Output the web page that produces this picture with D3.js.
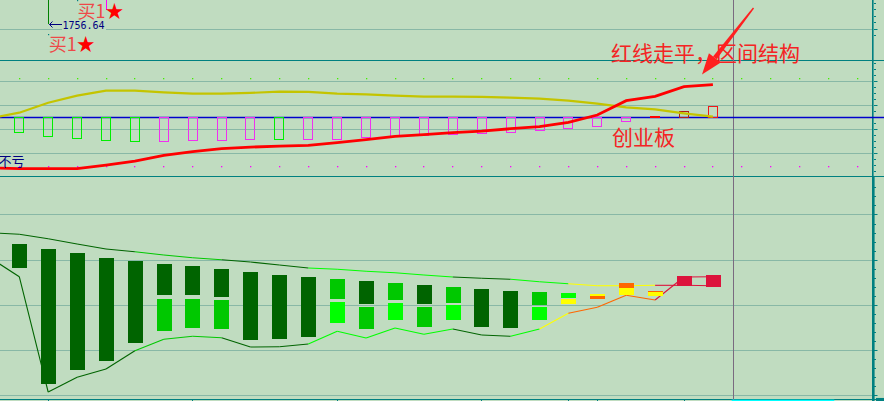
<!DOCTYPE html>
<html><head><meta charset="utf-8">
<script src="https://cdn.jsdelivr.net/npm/d3@7"></script>
<style>html,body{margin:0;padding:0;background:#C0DCC0;overflow:hidden}svg{display:block}</style>
</head><body><svg id="c" width="884" height="401"></svg>
<script>
// ================= DATA =================
const slots = d3.range(30);               // time slots (incl. empty slots on the right)
const bars = d3.range(25);                // slots holding data
// --- price panel (top) ---
const priceGrid = [1755];
const priceTicks = [1753, 1755, 1757, 1759, 1761, 1763];
const wickBars = [1, 3];
const wickLows = [1756.64, 1761.0];
const wickType = ['down', 'up'];
const lowLabelBar = 1;
const lowLabelPrice = 1756.64;
const signalBars = [2, 1];
const signalPrices = [1763.9, 1753.46];
const signalTexts = ['买1', '买1'];
// --- indicator panel (middle) ---
const oscGrid = [18, 6, -6, -18];
const oscVals = [-7.5,-9.5,-10.5,-11.5,-12,-12,-11.7,-11.7,-11,-11,-11,-11,-10,-9.5,-9,-8.5,-8,-7.5,-6.5,-5.5,-4.5,-2,0.6,3,5.6];
const oscType = ['G','G','G','G','G','M','M','M','M','G','M','M','M','M','M','M','M','M','M','M','M','M','F','D','R'];
// first value of each line = previous (off-screen) bar
const yellowVals = [-0.4, 2.3,7.3,10.8,13.3,13.3,12.5,11.8,11.8,12.2,12.8,12.7,11.8,11.5,10.8,10.3,10.3,10.2,9.8,9.3,8.3,6.8,5,4,2,0.3];
const redVals = [-25.2, -25.7,-25.7,-25.7,-23.9,-21.9,-19,-17.2,-15.7,-14.9,-14.4,-14,-12.7,-11.2,-9.5,-8.7,-7.7,-6.9,-5.7,-4.7,-2.5,1.15,8.3,10.5,15.3,16.3];
const upDotLevel = 19.5, downDotLevel = -24.35;
// --- lower panel ---
const lowGrid = [0, 10, 20, 30, 40];
const candles = [
  [[33.6,28.3,'D']],
  [[32.5,2.4,'D']],
  [[31.6,5.7,'D']],
  [[30.5,7.5,'D']],
  [[29.8,11.7,'D']],
  [[29.1,22.3,'D'],[21.4,14.3,'M']],
  [[28.7,22.3,'D'],[21.4,15.0,'M']],
  [[28.0,21.9,'D'],[21.1,14.8,'M']],
  [[27.4,12.3,'D']],
  [[26.7,12.6,'D']],
  [[26.3,13.0,'D']],
  [[25.8,21.4,'M'],[20.7,16.1,'L']],
  [[25.4,20.3,'D'],[19.6,14.6,'M']],
  [[24.9,21.2,'M'],[20.5,16.6,'L']],
  [[24.5,20.3,'D'],[19.6,15.2,'M']],
  [[24.0,20.5,'M'],[20.0,16.6,'L']],
  [[23.6,15.2,'D']],
  [[23.1,15.0,'D']],
  [[22.9,20.1,'M'],[19.6,16.6,'L']],
  [[22.7,21.6,'L'],[21.4,20.3,'Y']],
  [[22.5,22.1,'Y'],[22.1,21.4,'O']],
  [[24.9,23.8,'O'],[23.8,22.3,'Y']],
  [[23.1,22.9,'O'],[22.9,22.0,'Y']],
  [[26.5,24.3,'C']],
  [[26.7,24.0,'C']]
];
const envUpper = [36.05, 35.72,34.74,33.57,32.46,31.86,31.13,30.53,30.08,29.57,28.91,28.24,27.95,27.51,27.2,26.69,26.25,25.96,25.73,25.2,24.76,24.31,24.31,24.4,24.4,24.31];
const envLower = [30.44, 26.31,0.73,3.99,5.83,9.89,12.42,13.09,12.78,10.72,10.78,11.38,14.2,12.71,14.93,13.53,14.71,13.38,13.09,14.71,18.19,19.52,22.19,21.14,26.25,26.31];
const envUpperCode = ['D','D','D','D','D','M','M','M','D','D','D','L','L','L','L','L','D','D','L','L','Y','Y','Y','C','C'];
const envLowerCode = ['D','D','D','D','D','M','M','M','D','D','D','L','L','L','L','L','D','D','L','Y','O','O','O','C','C'];
// --- time axis ---
const dateTicks = [1, 6, 11, 16, 19, 20, 23];
const cursorSlot = 24.7;
const scrollRange = [24.65, 28.2];
// --- notes ---
const noteMain = '红线走平，区间结构';
const noteSub = '创业板';
const noteLeft = '不亏';

// ================= DRAW =================
const W = 884, H = 401;
const col = {
  bg:'#C0DCC0', grid:'#88B8A6', teal:'#008080', blue:'#0000CC', navy:'#000080',
  D:'#006400', M:'#00C800', L:'#00FF00', Y:'#FFFF00', O:'#FF6600', C:'#DC143C'
};
const oscCol = {G:'#00EE00', M:'#F030F0', F:'#FF0000', D:'#B01C1C', R:'#F01818'};
const svg = d3.select('#c');
const axisX = 873;

const x = d3.scaleLinear().domain([0, 29]).range([19.3, 857.4]);
const yP = d3.scaleLinear().domain([1745.4, 1764.1]).range([60.3, 0]);
const yO = d3.scaleLinear().domain([-29.35, 28.5]).range([176, 60.3]);
const yL = d3.scaleLinear().domain([-0.9, 48.65]).range([399.36, 176]);
const crisp = v => Math.floor(v) + 0.5;

svg.append('rect').attr('width', W).attr('height', H).attr('fill', col.bg);

// grid lines
const g = svg.append('g');
const gridYs = [...priceGrid.map(yP), ...oscGrid.map(yO), ...lowGrid.map(yL)];
g.selectAll('line.grid').data(gridYs).join('line')
  .attr('x1', 0).attr('x2', axisX - 1)
  .attr('y1', d => crisp(d)).attr('y2', d => crisp(d))
  .attr('stroke', col.grid).attr('stroke-width', 1);

// panel borders
[yO.range()[1], yO.range()[0], yL.range()[0]].forEach(v => {
  g.append('line').attr('x1', 0).attr('x2', W).attr('y1', crisp(v)).attr('y2', crisp(v))
    .attr('stroke', col.teal).attr('stroke-width', 1);
});

// cursor vertical
g.append('line').attr('x1', crisp(x(cursorSlot))).attr('x2', crisp(x(cursorSlot)))
  .attr('y1', 0).attr('y2', H).attr('stroke', '#7A6A80').attr('stroke-width', 1);

// right axis
g.append('rect').attr('x', axisX - 1).attr('y', 0).attr('width', 1.6).attr('height', yO.range()[0]).attr('fill', col.teal);
g.append('rect').attr('x', axisX - 1).attr('y', yO.range()[0]).attr('width', 2.6).attr('height', H - yO.range()[0]).attr('fill', col.teal);
const tick = (y, major) => g.append('line').attr('x1', axisX + 1).attr('x2', axisX + (major ? 4.5 : 3))
  .attr('y1', crisp(y)).attr('y2', crisp(y)).attr('stroke', col.teal).attr('stroke-width', 1);
priceTicks.forEach(p => tick(yP(p), priceGrid.includes(p)));
d3.range(-27, 28, 3).filter(v => v !== 0).forEach(v => tick(yO(v), oscGrid.includes(v)));
d3.range(0, 47, 2).forEach(v => tick(yL(v), v % 10 === 0));
g.append('rect').attr('x', axisX + 3).attr('y', yL.range()[0] - 1.4).attr('width', W - axisX - 3).attr('height', 4).attr('fill', col.teal);

// date ticks & scroll strip
dateTicks.forEach(i => g.append('line').attr('x1', crisp(x(i))).attr('x2', crisp(x(i)))
  .attr('y1', yL.range()[0]).attr('y2', H).attr('stroke', col.teal).attr('stroke-width', 1));
g.append('rect').attr('x', x(scrollRange[0])).attr('y', yL.range()[0] + 0.3)
  .attr('width', x(scrollRange[1]) - x(scrollRange[0])).attr('height', 2).attr('fill', '#00FFFF');

// ---------- price panel ----------
wickBars.forEach((b, k) => {
  g.append('line').attr('x1', crisp(x(b))).attr('x2', crisp(x(b)))
    .attr('y1', 0).attr('y2', yP(wickLows[k]))
    .attr('stroke', wickType[k] === 'down' ? '#008000' : '#FF00FF').attr('stroke-width', 1);
});
{
  const lx = crisp(x(lowLabelBar)), ly = crisp(yP(lowLabelPrice));
  g.append('rect').attr('x', lx + 13.5).attr('y', ly - 6).attr('width', 44).attr('height', 13).attr('fill', col.bg);
  g.append('path').attr('d', `M${lx + 13.5},${ly}H${lx + 1}M${lx + 4},${ly - 3}L${lx + 1},${ly}L${lx + 4},${ly + 3}`)
    .attr('stroke', col.navy).attr('fill', 'none').attr('stroke-width', 1);
  g.append('text').attr('x', lx + 14).attr('y', ly + 4)
    .attr('font-family', 'DejaVu Sans Mono, monospace').attr('font-size', 10)
    .attr('fill', col.navy).text(lowLabelPrice.toFixed(2));
}
signalBars.forEach((b, k) => {
  const sx = x(b) + 0.5, sy = yP(signalPrices[k]);
  g.append('rect').attr('x', Math.floor(x(b))).attr('y', Math.floor(sy)).attr('width', 1.2).attr('height', 1.2).attr('fill', col.teal);
  const t = g.append('text').attr('x', sx).attr('y', sy + 17)
    .attr('font-family', 'Noto Sans CJK SC, sans-serif').attr('font-size', 18);
  t.append('tspan').attr('fill', '#EE4848').text(signalTexts[k]);
  t.append('tspan').attr('fill', '#FF0000').text('★');
});

// ---------- indicator panel ----------
slots.forEach(i => {
  g.append('rect').attr('x', Math.floor(x(i))).attr('y', Math.floor(yO(upDotLevel))).attr('width', 1.3).attr('height', 1.3).attr('fill', '#44EE00');
  g.append('rect').attr('x', Math.floor(x(i))).attr('y', Math.floor(yO(downDotLevel))).attr('width', 1.3).attr('height', 1.3).attr('fill', '#FF00FF');
});
g.append('line').attr('x1', 0).attr('x2', W).attr('y1', crisp(yO(0))).attr('y2', crisp(yO(0)))
  .attr('stroke', col.blue).attr('stroke-width', 1.4);

bars.forEach(i => {
  const v = oscVals[i], t = oscType[i];
  const y0 = crisp(yO(0)), y1 = crisp(yO(v));
  const left = Math.round(x(i) - 5) + 0.5;
  if (t === 'F') {
    g.append('rect').attr('x', left - 0.5).attr('y', Math.min(y0, y1) - 0.5).attr('width', 10)
      .attr('height', Math.abs(y1 - y0) + 1).attr('fill', oscCol[t]);
  } else {
    g.append('rect').attr('x', left).attr('y', Math.min(y0, y1)).attr('width', 9)
      .attr('height', Math.abs(y1 - y0)).attr('fill', 'none').attr('stroke', oscCol[t]).attr('stroke-width', 1);
  }
});

const lineIdx = [-1, ...bars];
const oLine = d3.line().x((d, k) => x(lineIdx[k])).y(d => yO(d));
g.append('path').attr('d', oLine(yellowVals)).attr('fill', 'none').attr('stroke', '#C4C400').attr('stroke-width', 2.2);
g.append('path').attr('d', oLine(redVals)).attr('fill', 'none').attr('stroke', '#FF0000').attr('stroke-width', 2.8);

// ---------- lower panel ----------
const segs = (vals, codes) => {
  codes.forEach((c, k) => {
    g.append('line')
      .attr('x1', x(lineIdx[k])).attr('y1', yL(vals[k]))
      .attr('x2', x(lineIdx[k + 1])).attr('y2', yL(vals[k + 1]))
      .attr('stroke', col[c]).attr('stroke-width', 1.1);
  });
};
segs(envUpper, envUpperCode);
segs(envLower, envLowerCode);

bars.forEach(i => {
  candles[i].forEach(([hi, lo, c]) => {
    const top = Math.round(yL(hi)), bot = Math.round(yL(lo));
    g.append('rect').attr('x', Math.round(x(i) - 7.3)).attr('y', top)
      .attr('width', 15).attr('height', Math.max(1, bot - top)).attr('fill', col[c]);
  });
});

// ---------- notes ----------
g.append('text').attr('x', -1.5).attr('y', 165.8).attr('font-family', 'Noto Sans CJK SC, sans-serif')
  .attr('font-size', 13).attr('fill', col.navy).text(noteLeft);
g.append('text').attr('x', 611).attr('y', 61).attr('font-family', 'Noto Sans CJK SC, sans-serif')
  .attr('font-size', 21).attr('fill', '#F42424').text(noteMain);
g.append('text').attr('x', 612).attr('y', 145).attr('font-family', 'Noto Sans CJK SC, sans-serif')
  .attr('font-size', 21).attr('fill', '#F42424').text(noteSub);

// arrow
{
  const T = [753.5, 8], P = [702, 74.5];
  const dx = P[0] - T[0], dy = P[1] - T[1], L = Math.hypot(dx, dy);
  const ux = dx / L, uy = dy / L, nx = -uy, ny = ux;
  const hl = 21, hw = 7.5;
  const B = [P[0] - ux * hl, P[1] - uy * hl];
  const pt = (p, s) => `${p[0] + nx * s},${p[1] + ny * s}`;
  g.append('polygon').attr('points', [pt(T, 0.7), pt(B, 2.3), pt(B, -2.3), pt(T, -0.7)].join(' ')).attr('fill', '#FF2020');
  g.append('polygon').attr('points', [`${P[0]},${P[1]}`, pt(B, hw), pt(B, -hw)].join(' ')).attr('fill', '#FF2020');
}
</script>
</body></html>
